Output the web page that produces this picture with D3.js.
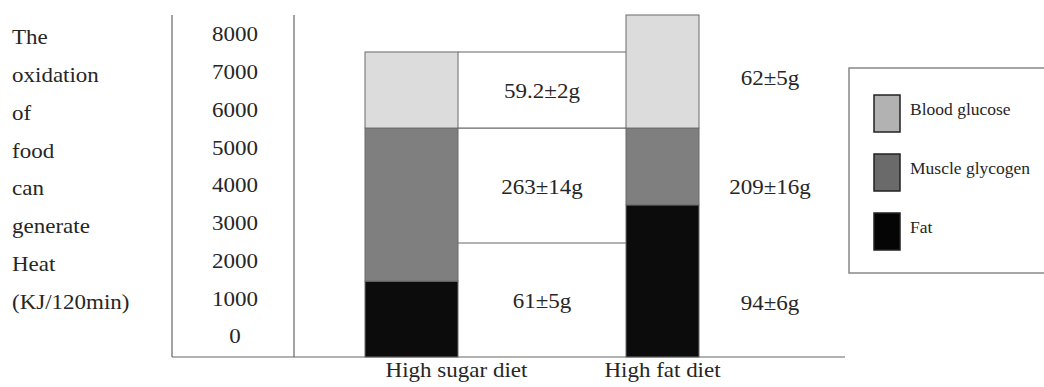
<!DOCTYPE html>
<html>
<head>
<meta charset="utf-8">
<script src="https://cdn.jsdelivr.net/npm/d3@7"></script>
<style>
  html, body { margin: 0; padding: 0; background: #fff; }
  svg { display: block; }
  text { font-family: "Liberation Serif", "Times New Roman", serif; fill: #262626; }
</style>
</head>
<body>
<svg id="chart" width="1044" height="387"></svg>
<script>
// ---- data ----
const categories = ["High sugar diet", "High fat diet"];
const seriesNames = ["Fat", "Muscle glycogen", "Blood glucose"];
const fatValues = [2010, 4030];
const glycogenValues = [4055, 2035];
const glucoseValues = [2015, 2995];
const tickValues = [0, 1000, 2000, 3000, 4000, 5000, 6000, 7000, 8000];
const yTitleLines = ["The", "oxidation", "of", "food", "can", "generate", "Heat", "(KJ/120min)"];
const sugarLabels = ["61\u00b15g", "263\u00b114g", "59.2\u00b12g"];
const fatDietLabels = ["94\u00b16g", "209\u00b116g", "62\u00b15g"];
const sugarLabelLevels = [1460, 4480, 7040];
const fatDietLabelLevels = [1430, 4480, 7390];
const tableDivider = 3020;
const legendOrder = ["Blood glucose", "Muscle glycogen", "Fat"];

// ---- styles / layout ----
const barFill = { "Fat": "#0c0c0c", "Muscle glycogen": "#7f7f7f", "Blood glucose": "#dcdcdc" };
const legendFill = { "Fat": "#050505", "Muscle glycogen": "#6a6a6a", "Blood glucose": "#b2b2b2" };
const barWidths = [93, 73];
const xLabelShift = [45, 0];
const SX = 1.15; // horizontal stretch of the original's text

const svg = d3.select("#chart");
const y = d3.scaleLinear().domain([0, 8000]).range([357, 55]);
const x = d3.scalePoint().domain(categories).range([411.5, 662.5]);

const rows = categories.map((c, i) => ({
  cat: c, i,
  Fat: fatValues[i], "Muscle glycogen": glycogenValues[i], "Blood glucose": glucoseValues[i]
}));
const stacked = d3.stack().keys(seriesNames)(rows);
const maxTotal = d3.max(rows, r => r.Fat + r["Muscle glycogen"] + r["Blood glucose"]);

function stext(g, str, xx, yy, size, anchor, scale) {
  return g.append("text")
    .attr("transform", `translate(${xx},${yy}) scale(${scale},1)`)
    .attr("text-anchor", anchor)
    .attr("dominant-baseline", "central")
    .style("font-size", size + "px")
    .text(str);
}

// frame lines
const frame = svg.append("g").attr("stroke", "#666").attr("stroke-width", 1.2);
frame.append("line").attr("x1", 172).attr("x2", 172).attr("y1", y(maxTotal)).attr("y2", y(0));
frame.append("line").attr("x1", 294).attr("x2", 294).attr("y1", y(maxTotal)).attr("y2", y(0));
frame.append("line").attr("x1", 172).attr("x2", 845).attr("y1", y(0)).attr("y2", y(0));

// tick labels
const tg = svg.append("g");
tickValues.forEach(v => stext(tg, String(v), 235, y(v) - 20, 20, "middle", SX));

// y-axis title lines aligned to the tick rows
const titleG = svg.append("g");
yTitleLines.forEach((t, k) => {
  const v = tickValues[tickValues.length - 1 - k];
  stext(titleG, t, 12, y(v) - 17, 20, "start", SX);
});

// table connector lines between the bars
const left = x(categories[0]) + barWidths[0] / 2;
const right = x(categories[1]) - barWidths[1] / 2;
const sugarTotal = rows[0].Fat + rows[0]["Muscle glycogen"] + rows[0]["Blood glucose"];
const sugarGly = rows[0].Fat + rows[0]["Muscle glycogen"];
[sugarTotal, sugarGly, tableDivider].forEach(v => {
  svg.append("line").attr("x1", left).attr("x2", right)
    .attr("y1", y(v)).attr("y2", y(v))
    .attr("stroke", "#666").attr("stroke-width", 1.2);
});

// stacked bars
stacked.forEach(layer => {
  svg.append("g").selectAll("rect").data(layer).join("rect")
    .attr("x", (d, i) => x(categories[i]) - barWidths[i] / 2)
    .attr("width", (d, i) => barWidths[i])
    .attr("y", d => y(d[1]))
    .attr("height", d => y(d[0]) - y(d[1]))
    .attr("fill", barFill[layer.key])
    .attr("stroke", "#6a6a6a").attr("stroke-width", 1);
});

// value annotations
const ag = svg.append("g");
sugarLabels.forEach((t, k) => stext(ag, t, (left + right) / 2, y(sugarLabelLevels[k]), 20, "middle", SX));
fatDietLabels.forEach((t, k) => stext(ag, t, 770, y(fatDietLabelLevels[k]), 20, "middle", SX));

// category labels
const xg = svg.append("g");
categories.forEach((c, i) => stext(xg, c, x(c) + xLabelShift[i], 371, 20, "middle", SX));

// legend
const lg = svg.append("g");
lg.append("rect").attr("x", 849).attr("y", 68).attr("width", 220).attr("height", 205)
  .attr("fill", "#fff").attr("stroke", "#888").attr("stroke-width", 1.5);
const legendY = d3.scalePoint().domain(legendOrder).range([113, 231]);
legendOrder.forEach(k => {
  lg.append("rect").attr("x", 874).attr("y", legendY(k) - 18).attr("width", 26).attr("height", 37)
    .attr("fill", legendFill[k]).attr("stroke", "#222").attr("stroke-width", 1.5);
  stext(lg, k, 910, legendY(k) - 3, 17, "start", 1.03);
});
</script>
</body>
</html>
